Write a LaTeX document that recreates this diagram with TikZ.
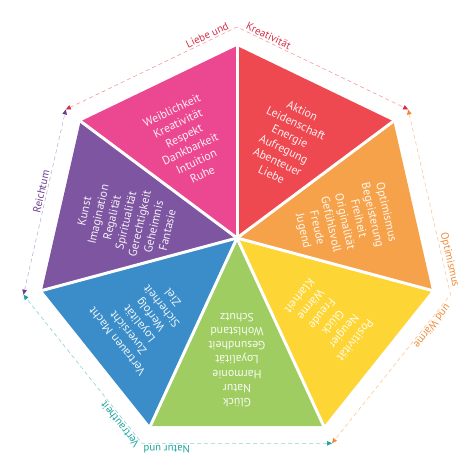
\documentclass[tikz,border=0pt]{standalone}
\usepackage{fontspec}
\setmainfont{PT Sans}
\usetikzlibrary{arrows.meta,calc}
\definecolor{cpink}{HTML}{EC4891}
\definecolor{cred}{HTML}{EE4850}
\definecolor{corange}{HTML}{F6A24A}
\definecolor{cyellow}{HTML}{FDD535}
\definecolor{cgreen}{HTML}{A0CD62}
\definecolor{cblue}{HTML}{3A8DC8}
\definecolor{cpurple}{HTML}{7D55A0}
\definecolor{lred}{HTML}{D62D45}
\definecolor{lorange}{HTML}{EE8B3A}
\definecolor{lteal}{HTML}{1BA39E}
\definecolor{lpurple}{HTML}{6A3D8E}
\begin{document}
\begin{tikzpicture}[x=1pt,y=1pt,
  segtext/.style={font=\fontsize{11.8}{14.2}\selectfont, align=center, inner sep=0pt},
  lbl/.style={font=\fontsize{10.8}{12}\selectfont, sloped, above, inner sep=1.5pt, allow upside down},
  dline/.style={line width=0.6pt, dash pattern=on 4pt off 3pt},
  tipA/.style={arrows={Triangle[length=5pt,width=4.5pt,color=#1]-Triangle[length=5pt,width=4.5pt,color=#1]}}
  ]
\useasboundingbox (0,0) rectangle (474,474);
\coordinate (C) at (237,228);
\coordinate (P) at (237,236);
\foreach \i in {0,...,6} {
  \coordinate (V\i) at ($(C)+({90+\i*360/7}:200)$);
  \coordinate (W\i) at ($(C)+({90+\i*360/7}:219)$);
}
% segments
\fill[cpink]   (P) -- (V0) -- (V1) -- cycle;
\fill[cpurple] (P) -- (V1) -- (V2) -- cycle;
\fill[cblue]   (P) -- (V2) -- (V3) -- cycle;
\fill[cgreen]  (P) -- (V3) -- (V4) -- cycle;
\fill[cyellow] (P) -- (V4) -- (V5) -- cycle;
\fill[corange] (P) -- (V5) -- (V6) -- cycle;
\fill[cred]    (P) -- (V6) -- (V0) -- cycle;
\foreach \i in {0,...,6} \draw[white, line width=3pt] (P) -- (V\i);
% texts
\node[segtext, text=white!92!cpink, rotate=25.71] (tpink) at ($(C)+(115.71:115)$)
  {Weiblichkeit\\Kreativität\\Respekt\\Dankbarkeit\\Intuition\\Ruhe};
\node[segtext, text=white!92!cred, rotate=-25.71] (tred) at ($(C)+(64.29:115)$)
  {Aktion\\Leidenschaft\\Energie\\Aufregung\\Abenteuer\\Liebe};
\node[segtext, text=white!92!corange, rotate=-77.14] (torange) at ($(C)+(12.86:110)$)
  {Optimismus\\Begeisterung\\Freiheit\\Originalität\\Gefühlsvoll\\Freude\\Jugend};
\node[segtext, text=white!92!cyellow, rotate=-128.57] (tyellow) at ($(C)+(-38.57:116)$)
  {Positivität\\Neugier\\Glück\\Freude\\Wärme\\Klarheit};
\node[segtext, text=white!92!cgreen, rotate=180] (tgreen) at ($(C)+(270:114)$)
  {Glück\\Natur\\Harmonie\\Loyalität\\Gesundheit\\Wohlstand\\Schutz};
\node[segtext, text=white!92!cblue, rotate=128.57] (tblue) at ($(C)+(218.57:118)$)
  {Vertrauen Macht\\Zuversicht\\Loyalität\\Werfolg\\Sicherheit\\Ziel};
\node[segtext, text=white!92!cpurple, rotate=77.14] (tpurple) at ($(C)+(167.14:114)$)
  {Kunst\\Imagination\\Regalität\\Spiritualität\\Gerechtigkeit\\Geheimnis\\Fantasie};
% outer dashed arrows
\draw[dline, draw=cred!55!white, tipA=lred] (W1) -- node[lbl, pos=0.84, text=lred] (l1) {Liebe und} (W0)
  -- node[lbl, pos=0.17, text=lred] (l2) {Kreativität} (W6);
\draw[dline, draw=corange!60!white, tipA=lorange] (W6) -- node[lbl, pos=0.82, text=lorange] (l3) {Optimismus} (W5)
  -- node[lbl, pos=0.19, text=lorange] (l4) {und Wärme} (W4);
\draw[dline, draw=lteal!50!white, tipA=lteal] (W4) -- node[lbl, pos=0.87, text=lteal] (l5) {Natur und} (W3)
  -- node[lbl, pos=0.15, text=lteal] (l6) {Vertrautheit} (W2);
\draw[dline, draw=lpurple!40!white, tipA=lpurple] (W2) -- node[lbl, pos=0.55, text=lpurple] (l7) {Reichtum} (W1);
\end{tikzpicture}
\end{document}
